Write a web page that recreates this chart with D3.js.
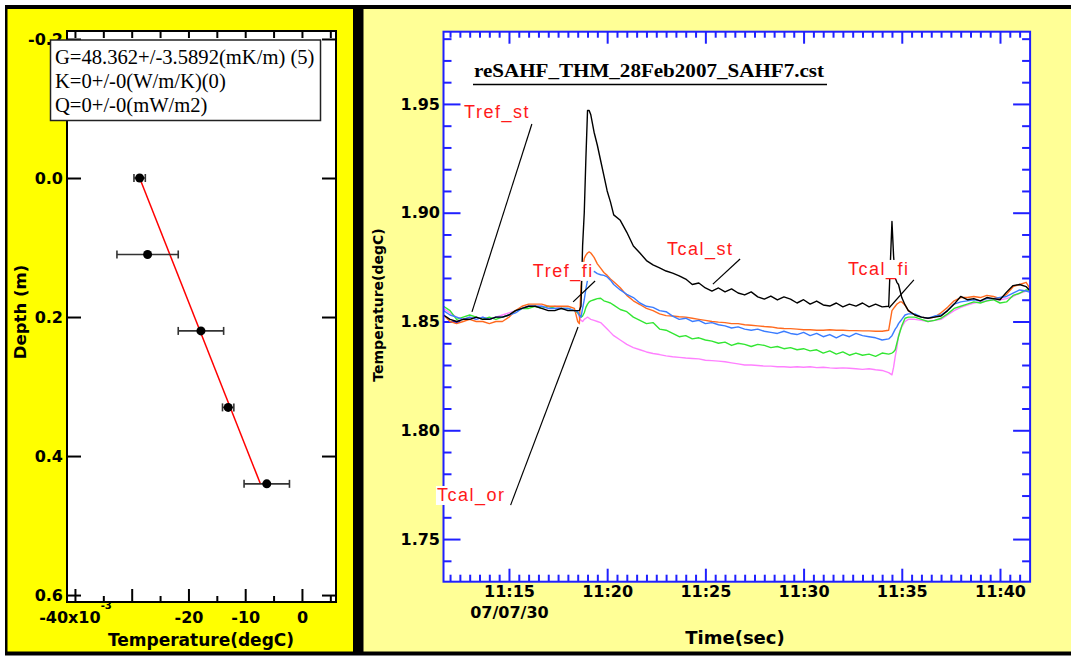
<!DOCTYPE html>
<html><head><meta charset="utf-8">
<script src="https://cdn.jsdelivr.net/npm/d3@7"></script>
<style>
body{margin:0;background:#fff;}
svg{display:block;}
</style></head><body>
<svg id="c" width="1071" height="657"></svg>
<script>
// ================= LEFT PANEL DATA =================
const depths   = [0.0, 0.11, 0.22, 0.33, 0.44];          // m
const temps    = [-28.6, -27.2, -17.8, -13.0, -6.2];      // x10^-3 degC
const tempErr  = [1.0, 5.4, 4.0, 1.0, 4.0];
const fitG = 48.362;            // mK/m
const fitIntercept = -28.6;     // x10^-3 degC at depth 0
const fitDepthRange = [0.0, 0.44];
const legendLines = ["G=48.362+/-3.5892(mK/m) (5)", "K=0+/-0(W/m/K)(0)", "Q=0+/-0(mW/m2)"];
const depthTicks = [-0.2, 0.0, 0.2, 0.4, 0.6];
const tempMajorTicks = [-40, -30, -20, -10, 0];
const tempMinorTicks = [-35, -25, -15, -5, 5];

// ================= RIGHT PANEL DATA =================
const times = [
 "11:11:40","11:12:00","11:12:20","11:12:40","11:13:00","11:13:20","11:13:40","11:14:00","11:14:20","11:14:40",
 "11:15:00","11:15:20","11:15:40","11:16:00","11:16:20","11:16:40","11:17:00","11:17:20","11:17:40","11:18:00","11:18:20",
 "11:18:30","11:18:35","11:18:40","11:18:45","11:18:50","11:18:55","11:19:00","11:19:05","11:19:10","11:19:20",
 "11:19:30","11:19:40","11:19:50","11:20:00","11:20:10",
 "11:20:20","11:20:40","11:21:00","11:21:20","11:21:40","11:22:00","11:22:20","11:22:40","11:23:00","11:23:20",
 "11:23:40","11:24:00","11:24:20","11:24:40","11:25:00","11:25:20","11:25:40","11:26:00","11:26:20","11:26:40",
 "11:27:00","11:27:20","11:27:40","11:28:00","11:28:20","11:28:40","11:29:00","11:29:20","11:29:40","11:30:00",
 "11:30:20","11:30:40","11:31:00","11:31:20","11:31:40","11:32:00","11:32:20","11:32:40","11:33:00","11:33:20",
 "11:33:40","11:34:00","11:34:20",
 "11:34:30","11:34:35","11:34:40","11:34:45","11:34:50","11:34:55","11:35:00","11:35:10","11:35:20",
 "11:35:40","11:36:00","11:36:20","11:36:40","11:37:00","11:37:20","11:37:40","11:38:00","11:38:20","11:38:40",
 "11:39:00","11:39:20","11:39:40","11:40:00","11:40:20","11:40:40","11:41:00","11:41:20","11:41:30"
];
const blackSeries = [
 1.853,1.851,1.850,1.851,1.851,1.852,1.851,1.851,1.852,1.852,1.853,1.855,1.856,1.857,1.857,1.856,1.855,1.855,1.856,1.855,1.855,
 1.855,1.855,1.857,1.885,1.900,1.925,1.947,1.947,1.945,1.937,1.931,1.924,1.917,1.910,1.905,
 1.899,1.8965,1.891,1.8847,1.8815,1.878,1.876,1.8746,1.8732,1.8722,1.871,1.8695,1.867,1.8677,1.8654,1.864,1.8654,1.8636,1.865,1.8631,
 1.8622,1.8636,1.8613,1.8603,1.8617,1.8599,1.8613,1.8603,1.8585,1.860,1.858,1.8594,1.8576,1.8571,1.8585,1.8567,1.858,1.8571,1.8585,1.8567,
 1.858,1.8567,1.857,
 1.896,1.880,1.870,1.868,1.867,1.864,1.861,1.8576,1.855,
 1.853,1.852,1.8515,1.852,1.8525,1.855,1.858,1.8615,1.860,1.8605,1.8595,1.861,1.8605,1.860,1.8635,1.8665,1.867,1.866,1.8645
];
const orangeSeries = [
 1.853,1.850,1.849,1.850,1.851,1.850,1.850,1.849,1.850,1.850,1.852,1.855,1.857,1.858,1.858,1.858,1.857,1.857,1.857,1.857,1.856,
 1.850,1.849,1.866,1.874,1.879,1.8805,1.8815,1.882,1.8815,1.8795,1.8765,1.8745,1.8725,1.8712,1.8695,
 1.8683,1.8655,1.862,1.8595,1.8578,1.856,1.855,1.8535,1.8527,1.8525,1.8522,1.852,1.8515,1.851,1.8505,1.850,1.8497,1.8495,1.849,1.849,
 1.8485,1.8483,1.848,1.8477,1.8475,1.847,1.8468,1.8467,1.8465,1.8462,1.8462,1.846,1.846,1.8462,1.846,1.846,1.8458,1.8458,1.8457,1.8457,
 1.8455,1.8455,1.846,
 1.855,1.856,1.857,1.858,1.8585,1.859,1.859,1.8575,1.855,
 1.853,1.852,1.8515,1.852,1.854,1.8565,1.8595,1.861,1.861,1.8615,1.861,1.862,1.8615,1.8605,1.8625,1.866,1.867,1.868,1.8655
];
const blueSeries = [
 1.855,1.853,1.852,1.851,1.852,1.851,1.852,1.851,1.852,1.852,1.853,1.854,1.856,1.857,1.857,1.857,1.856,1.856,1.856,1.856,1.855,
 1.8545,1.853,1.852,1.856,1.860,1.865,1.869,1.872,1.8725,1.873,1.872,1.8715,1.8712,1.8705,1.869,
 1.867,1.8645,1.8625,1.861,1.8585,1.857,1.8565,1.855,1.8545,1.8525,1.851,1.8515,1.850,1.8505,1.849,1.8495,1.8485,1.848,1.847,1.8475,
 1.8465,1.846,1.8465,1.8455,1.845,1.8445,1.8455,1.8445,1.844,1.845,1.8435,1.8445,1.843,1.844,1.8425,1.844,1.843,1.8445,1.8435,1.843,
 1.8425,1.8415,1.842,
 1.8435,1.845,1.8465,1.8475,1.849,1.850,1.851,1.853,1.8535,
 1.8535,1.852,1.8515,1.8525,1.853,1.855,1.858,1.859,1.8595,1.860,1.8595,1.8605,1.8605,1.861,1.8615,1.863,1.8645,1.864,1.8635
];
const greenSeries = [
 1.857,1.855,1.851,1.852,1.853,1.852,1.851,1.852,1.851,1.852,1.853,1.855,1.856,1.856,1.857,1.856,1.857,1.856,1.856,1.856,1.855,
 1.854,1.853,1.852,1.8525,1.854,1.8565,1.858,1.859,1.8595,1.860,1.8605,1.8607,1.8595,1.859,1.8585,
 1.8575,1.8555,1.8545,1.852,1.8505,1.849,1.8495,1.8465,1.846,1.8445,1.843,1.8435,1.842,1.8425,1.8415,1.841,1.840,1.8405,1.839,1.840,
 1.8395,1.8385,1.8395,1.839,1.838,1.8385,1.8375,1.838,1.837,1.8375,1.8365,1.837,1.8355,1.8365,1.835,1.836,1.8345,1.8355,1.8345,1.835,
 1.834,1.8355,1.835,
 1.8355,1.836,1.837,1.840,1.843,1.8455,1.848,1.8515,1.852,
 1.852,1.851,1.850,1.8505,1.8515,1.8535,1.856,1.857,1.858,1.859,1.8585,1.8595,1.860,1.8585,1.859,1.862,1.863,1.8645,1.8645
];
const pinkSeries = [
 1.856,1.854,1.852,1.851,1.852,1.851,1.852,1.851,1.852,1.853,1.854,1.855,1.856,1.857,1.857,1.857,1.856,1.857,1.856,1.856,1.855,
 1.854,1.852,1.8505,1.850,1.851,1.8515,1.852,1.8515,1.851,1.8505,1.850,1.8495,1.848,1.8465,1.845,
 1.8435,1.8415,1.8395,1.838,1.837,1.836,1.8353,1.8348,1.8342,1.8338,1.8335,1.8332,1.833,1.8328,1.8322,1.832,1.8318,1.8315,1.831,1.8305,
 1.830,1.830,1.8298,1.8295,1.8295,1.8292,1.8292,1.829,1.8292,1.829,1.8292,1.8288,1.829,1.8287,1.8285,1.8287,1.8285,1.8283,1.828,1.8283,
 1.8278,1.8275,1.8265,
 1.8255,1.829,1.834,1.838,1.8435,1.846,1.8475,1.850,1.851,
 1.851,1.8505,1.850,1.8505,1.851,1.853,1.855,1.8565,1.8575,1.8585,1.859,1.8595,1.860,1.860,1.8605,1.8615,1.863,1.864,1.8645
];
const seriesList = [
 {values: pinkSeries,   color:"#ff80ff"},
 {values: greenSeries,  color:"#33e633"},
 {values: orangeSeries, color:"#ff6a1f"},
 {values: blueSeries,   color:"#3a7cff"},
 {values: blackSeries,  color:"#000000"}
];
const tempMajor = [1.75, 1.80, 1.85, 1.90, 1.95];
const chartTitle = "reSAHF_THM_28Feb2007_SAHF7.cst";
const dateLabel = "07/07/30";
const annotations = [
 {label:"Tref_st", t:"11:12:43", v:1.9436, fromT:"11:16:10", fromV:1.9408, toT:"11:13:07", toV:1.8544},
 {label:"Tcal_or", t:"11:11:20", v:1.7675, fromT:"11:15:05", fromV:1.7656, toT:"11:18:31", toV:1.8475},
 {label:"Tref_fi", t:"11:16:13", v:1.8705, fromT:"11:18:16", fromV:1.8590, toT:"11:19:23", toV:1.8686},
 {label:"Tcal_st", t:"11:23:03", v:1.8806, fromT:"11:26:46", fromV:1.8787, toT:"11:25:23", toV:1.8672},
 {label:"Tcal_fi", t:"11:32:16", v:1.8714, fromT:"11:35:37", fromV:1.8691, toT:"11:34:21", toV:1.8562}
];

// ================= DRAWING =================
const svg = d3.select("#c");
const SANS = "'DejaVu Sans', sans-serif";
svg.append("rect").attr("width",1071).attr("height",657).attr("fill","#fff");
svg.append("rect").attr("x",5).attr("y",5).attr("width",1066).attr("height",650.5).attr("fill","#000");
svg.append("rect").attr("x",7.5).attr("y",9).attr("width",345.5).attr("height",642.5).attr("fill","#ffff00");
svg.append("rect").attr("x",363.5).attr("y",9).attr("width",707.5).attr("height",642.5).attr("fill","#ffff96");

function styleAxis(g, color){
  g.select(".domain").remove();
  g.selectAll(".tick line").attr("stroke",color).attr("stroke-width",2);
  g.selectAll(".tick text").attr("font-family",SANS).attr("font-weight","bold")
    .attr("font-size",16).attr("fill","#000");
}

// ---------- Left panel ----------
const L = {x0:67, x1:336, y0:31, y1:602};
const xL = d3.scaleLinear().domain([-41.4, 6.0]).range([L.x0, L.x1]);
const yL = d3.scaleLinear().domain([-0.2115, 0.610]).range([L.y0, L.y1]);
const gL = svg.append("g");
gL.append("rect").attr("x",L.x0).attr("y",L.y0).attr("width",L.x1-L.x0).attr("height",L.y1-L.y0).attr("fill","#fff");

gL.append("g").attr("transform",`translate(${L.x0},0)`)
  .call(d3.axisLeft(yL).tickValues(depthTicks).tickSize(-14).tickPadding(4).tickFormat(d=>d.toFixed(1)))
  .call(g=>styleAxis(g,"#000"));
gL.append("g").attr("transform",`translate(${L.x1},0)`)
  .call(d3.axisRight(yL).tickValues(depthTicks).tickSize(-14).tickFormat(""))
  .call(g=>styleAxis(g,"#000"));
const bx = gL.append("g").attr("transform",`translate(0,${L.y1})`)
  .call(d3.axisBottom(xL).tickValues(tempMajorTicks).tickSize(-13).tickPadding(10)
     .tickFormat(d=> d===-40 ? "-40x10" : (d===-30 ? "" : String(d))))
  .call(g=>styleAxis(g,"#000"));
bx.selectAll(".tick text").filter(d=>d===-40).append("tspan")
  .attr("dy","-14px").attr("font-size",10).text("-3");
gL.append("g").attr("transform",`translate(0,${L.y1})`)
  .call(d3.axisBottom(xL).tickValues(tempMinorTicks).tickSize(-6).tickFormat(""))
  .call(g=>styleAxis(g,"#000"));
gL.append("g").attr("transform",`translate(0,${L.y0})`)
  .call(d3.axisTop(xL).tickValues(tempMajorTicks.concat(tempMinorTicks)).tickSize(-7).tickFormat(""))
  .call(g=>styleAxis(g,"#000"));
gL.append("rect").attr("x",L.x0).attr("y",L.y0).attr("width",L.x1-L.x0).attr("height",L.y1-L.y0)
  .attr("fill","none").attr("stroke","#000").attr("stroke-width",2);

// fit line
gL.append("line")
  .attr("x1", xL(fitIntercept + fitG*fitDepthRange[0])).attr("y1", yL(fitDepthRange[0]))
  .attr("x2", xL(fitIntercept + fitG*fitDepthRange[1])).attr("y2", yL(fitDepthRange[1]))
  .attr("stroke","#ff0000").attr("stroke-width",1.5);
// error bars & points
const pts = depths.map((d,i)=>({d, t:temps[i], e:tempErr[i]}));
const eb = gL.append("g").attr("stroke","#333").attr("stroke-width",1.6);
pts.forEach(p=>{
  const y = yL(p.d), xa = xL(p.t-p.e), xb = xL(p.t+p.e);
  eb.append("line").attr("x1",xa).attr("x2",xb).attr("y1",y).attr("y2",y);
  eb.append("line").attr("x1",xa).attr("x2",xa).attr("y1",y-4).attr("y2",y+4);
  eb.append("line").attr("x1",xb).attr("x2",xb).attr("y1",y-4).attr("y2",y+4);
});
gL.selectAll("circle.pt").data(pts).join("circle").attr("class","pt")
  .attr("cx",p=>xL(p.t)).attr("cy",p=>yL(p.d)).attr("r",4.5).attr("fill","#000");

// legend box
gL.append("rect").attr("x",50.5).attr("y",40).attr("width",270).attr("height",80.5)
  .attr("fill","#fff").attr("stroke","#222").attr("stroke-width",1.5);
gL.selectAll("text.leg").data(legendLines).join("text").attr("class","leg")
  .attr("x",55).attr("y",(d,i)=>63.5+i*24.3)
  .attr("font-family","'Liberation Serif', serif").attr("font-size",20.6).attr("fill","#000")
  .text(d=>d);

// left axis titles
gL.append("text").attr("transform","translate(26,312) rotate(-90)").attr("text-anchor","middle")
  .attr("font-family",SANS).attr("font-weight","bold").attr("font-size",16.5).text("Depth (m)");
gL.append("text").attr("x",201).attr("y",646).attr("text-anchor","middle")
  .attr("font-family",SANS).attr("font-weight","bold").attr("font-size",17).text("Temperature(degC)");

// ---------- Right panel ----------
const parseT = d3.timeParse("%Y-%m-%d %H:%M:%S");
const T = s => parseT("2007-07-30 " + s);
const R = {x0:443.5, x1:1030.1, y0:31.7, y1:581.7};
const xR = d3.scaleTime().domain([T("11:11:40"), T("11:41:32")]).range([R.x0, R.x1]);
const yR = d3.scaleLinear().domain([1.7304, 1.9832]).range([R.y1, R.y0]);
const gR = svg.append("g");
gR.append("rect").attr("x",R.x0).attr("y",R.y0).attr("width",R.x1-R.x0).attr("height",R.y1-R.y0).attr("fill","#fff");

const BLUE = "#2020ff";
const xMajor = xR.ticks(d3.timeMinute.every(5));
const xMinor = xR.ticks(d3.timeSecond.every(30))
  .filter(d=>d.getSeconds()!==0 || d.getMinutes()%5!==0)
  .filter(d=>xR(d)>R.x0+3 && xR(d)<R.x1-3);
const yMinor = yR.ticks(30).filter(v=>Math.round(v*100)%5!==0);
const fmt = d3.timeFormat("%H:%M");

const bxR = gR.append("g").attr("transform",`translate(0,${R.y1})`)
  .call(d3.axisBottom(xR).tickValues(xMajor).tickSize(-13).tickPadding(4).tickFormat(fmt))
  .call(g=>styleAxis(g,BLUE));
bxR.selectAll(".tick text").filter((d,i)=>i===0).append("tspan")
  .attr("x",0).attr("dy","1.31em").text(dateLabel);
gR.append("g").attr("transform",`translate(0,${R.y1})`)
  .call(d3.axisBottom(xR).tickValues(xMinor).tickSize(-7).tickFormat(""))
  .call(g=>styleAxis(g,BLUE));
gR.append("g").attr("transform",`translate(0,${R.y0})`)
  .call(d3.axisTop(xR).tickValues(xMajor).tickSize(-12).tickFormat(""))
  .call(g=>styleAxis(g,BLUE));
gR.append("g").attr("transform",`translate(0,${R.y0})`)
  .call(d3.axisTop(xR).tickValues(xMinor).tickSize(-6).tickFormat(""))
  .call(g=>styleAxis(g,BLUE));
gR.append("g").attr("transform",`translate(${R.x0},0)`)
  .call(d3.axisLeft(yR).tickValues(tempMajor).tickSize(-17).tickPadding(3.5).tickFormat(d3.format(".2f")))
  .call(g=>styleAxis(g,BLUE));
gR.append("g").attr("transform",`translate(${R.x0},0)`)
  .call(d3.axisLeft(yR).tickValues(yMinor).tickSize(-8).tickFormat(""))
  .call(g=>styleAxis(g,BLUE));
gR.append("g").attr("transform",`translate(${R.x1},0)`)
  .call(d3.axisRight(yR).tickValues(tempMajor).tickSize(-17).tickFormat(""))
  .call(g=>styleAxis(g,BLUE));
gR.append("g").attr("transform",`translate(${R.x1},0)`)
  .call(d3.axisRight(yR).tickValues(yMinor).tickSize(-8).tickFormat(""))
  .call(g=>styleAxis(g,BLUE));

// traces
svg.append("clipPath").attr("id","clipR").append("rect")
  .attr("x",R.x0).attr("y",R.y0).attr("width",R.x1-R.x0).attr("height",R.y1-R.y0);
const tDates = times.map(T);
const line = d3.line().x((d,i)=>xR(tDates[i])).y(d=>yR(d));
const gTr = gR.append("g").attr("clip-path","url(#clipR)");
seriesList.forEach(s=>{
  gTr.append("path").attr("d",line(s.values)).attr("fill","none")
    .attr("stroke",s.color).attr("stroke-width",1.4).attr("stroke-linejoin","round");
});

// frame
gR.append("rect").attr("x",R.x0).attr("y",R.y0).attr("width",R.x1-R.x0).attr("height",R.y1-R.y0)
  .attr("fill","none").attr("stroke",BLUE).attr("stroke-width",2);

// title
gR.append("text").attr("x",474).attr("y",77)
  .attr("font-family","'Liberation Serif', serif").attr("font-weight","bold").attr("font-size",19)
  .attr("textLength",350).attr("lengthAdjust","spacingAndGlyphs").text(chartTitle);
gR.append("line").attr("x1",473).attr("x2",827).attr("y1",84.5).attr("y2",84.5)
  .attr("stroke","#000").attr("stroke-width",1.5);

// annotations
const gA = gR.append("g");
annotations.forEach(a=>{
  gA.append("line").attr("x1",xR(T(a.fromT))).attr("y1",yR(a.fromV))
    .attr("x2",xR(T(a.toT))).attr("y2",yR(a.toV)).attr("stroke","#000").attr("stroke-width",1.2);
});
annotations.forEach(a=>{
  const g = gA.append("g");
  const tx = g.append("text").attr("x",xR(T(a.t))).attr("y",yR(a.v))
    .attr("font-family","'Liberation Sans', Arial, sans-serif").attr("font-size",18)
    .attr("letter-spacing","1.5px").attr("fill","#ff1a1a").text(a.label);
  const bb = tx.node().getBBox();
  g.insert("rect","text").attr("x",bb.x-1).attr("y",bb.y+1).attr("width",bb.width+1).attr("height",bb.height-2).attr("fill","#fff");
});

// right axis titles
gR.append("text").attr("transform","translate(383,305) rotate(-90)").attr("text-anchor","middle")
  .attr("font-family",SANS).attr("font-weight","bold").attr("font-size",14).text("Temperature(degC)");
gR.append("text").attr("x",735).attr("y",644).attr("text-anchor","middle")
  .attr("font-family",SANS).attr("font-weight","bold").attr("font-size",18).text("Time(sec)");
</script>
</body></html>
